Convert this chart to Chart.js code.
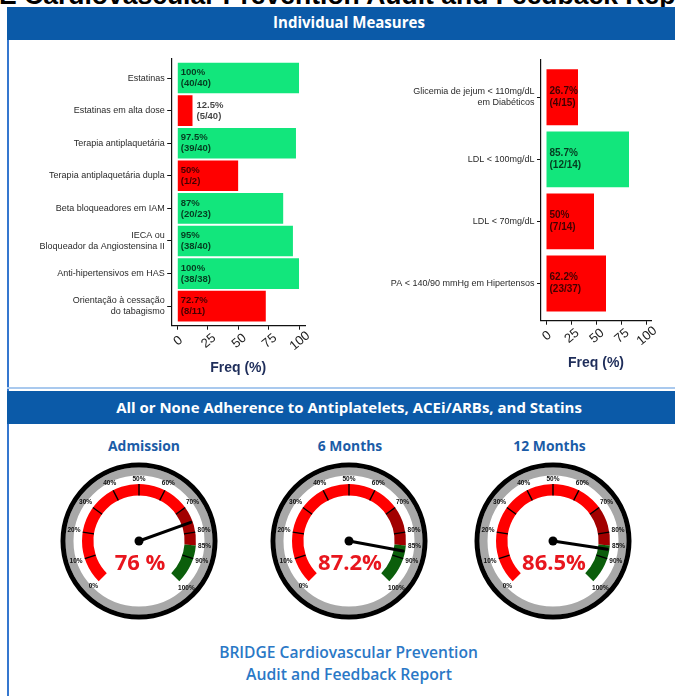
<!DOCTYPE html>
<html><head><meta charset="utf-8">
<script src="https://cdn.jsdelivr.net/npm/chart.js@4.4.0/dist/chart.umd.min.js"></script>
<style>
html,body{margin:0;padding:0;background:#fff;}
body{width:675px;height:696px;position:relative;overflow:hidden;font-family:"Open Sans",sans-serif;}
.abs{position:absolute;}
.hdr{position:absolute;left:7px;width:700px;background:#0b5aa8;}
.txt{position:absolute;white-space:nowrap;transform:translate(-50%,-50%);line-height:1;}
canvas{position:absolute;}
</style></head><body>
<div id="topTitle" class="abs" style="font:bold 26.5px 'Liberation Sans',Arial,sans-serif;color:#000;white-space:nowrap;line-height:26.5px;top:-18px;">BRIDGE Cardiovascular Prevention Audit and Feedback Report</div>
<div class="hdr" style="top:7px;height:33px"></div>
<div class="abs" style="left:7px;top:40px;width:2px;height:656px;background:#3577cf"></div>
<div class="abs" style="left:7px;top:387px;width:700px;height:2px;background:#a9c9ee"></div>
<div class="hdr" style="top:391px;height:33px"></div>
<div id="h1" class="txt" style="left:349px;top:23px;color:#fff;font-weight:700;">Individual Measures</div>
<div id="h2" class="txt" style="left:349px;top:407px;color:#fff;font-weight:700;">All or None Adherence to Antiplatelets, ACEi/ARBs, and Statins</div>
<div id="b1" class="txt" style="left:348.5px;top:653px;color:#2a78c6;font-weight:600;">BRIDGE Cardiovascular Prevention</div>
<div id="b2" class="txt" style="left:349px;top:675px;color:#2a78c6;font-weight:600;">Audit and Feedback Report</div>
<canvas id="leftBars" width="340" height="340" style="left:0px;top:45px"></canvas>
<canvas id="rightBars" width="335" height="340" style="left:340px;top:45px"></canvas>
<script>
// ---------------- DATA ----------------
const leftCategories = [["Estatinas"], ["Estatinas em alta dose"], ["Terapia antiplaquetária"], ["Terapia antiplaquetária dupla"], ["Beta bloqueadores em IAM"], ["IECA ou", "Bloqueador da Angiostensina II"], ["Anti-hipertensivos em HAS"], ["Orientação à cessação", "do tabagismo"]];
const leftValues = [100, 12.5, 97.5, 50, 87, 95, 100, 72.7];
const leftPctLabels = ["100%", "12.5%", "97.5%", "50%", "87%", "95%", "100%", "72.7%"];
const leftCountLabels = ["(40/40)", "(5/40)", "(39/40)", "(1/2)", "(20/23)", "(38/40)", "(38/38)", "(8/11)"];
const leftMeetsTarget = [true, false, true, false, true, true, true, false];

const rightCategories = [["Glicemia de jejum < 110mg/dL", "em Diabéticos"], ["LDL < 100mg/dL"], ["LDL < 70mg/dL"], ["PA < 140/90 mmHg em Hipertensos"]];
const rightValues = [32, 83, 48, 60];
const rightPctLabels = ["26.7%", "85.7%", "50%", "62.2%"];
const rightCountLabels = ["(4/15)", "(12/14)", "(7/14)", "(23/37)"];
const rightMeetsTarget = [false, true, false, false];

const freqTicks = [0, 25, 50, 75, 100];
const freqAxisTitle = "Freq (%)";

const gaugeTitles = ["Admission", "6 Months", "12 Months"];
const gaugeValues = [76, 87.2, 86.5];
const gaugeValueLabels = ["76 %", "87.2%", "86.5%"];
const gaugeBandEdges = [0, 70, 85, 100];
const gaugeTickMarks = [10, 20, 30, 40, 50, 60, 70, 80, 90];
const gaugeTickLabels = [0, 10, 20, 30, 40, 50, 60, 70, 80, 85, 90, 100];

// ---------------- STYLE / LAYOUT ----------------
const GREEN = '#12e67c', RED = '#ff0000', NAVY = '#1e2d5a';
const GAUGE_COLORS = ['#ff0000', '#a20000', '#0b5e0b'];
const gaugeCentersX = [138.5, 348.5, 553];
const gaugeCenterY = 540.5;
const gaugeTitleX = [144, 350, 549.5];
const gaugeTitleY = 446;

function fit(el, target) {
  el.style.fontSize = '20px';
  const w = el.getBoundingClientRect().width;
  el.style.fontSize = (20 * target / w) + 'px';
}
fit(document.getElementById('h1'), 152);
fit(document.getElementById('h2'), 466);
fit(document.getElementById('b1'), 259);
fit(document.getElementById('b2'), 206);
(function () {
  const t = document.getElementById('topTitle');
  const c = document.createElement('canvas').getContext('2d');
  c.font = "bold 26.5px 'Liberation Sans'";
  t.style.left = (24 - c.measureText('BRIDGE ').width) + 'px';
})();

// gauge titles
(function () {
  let size = null;
  gaugeTitles.forEach((g, i) => {
    const d = document.createElement('div');
    d.className = 'txt';
    d.textContent = g;
    d.style.left = gaugeTitleX[i] + 'px';
    d.style.top = gaugeTitleY + 'px';
    d.style.color = '#1b5ca7';
    d.style.fontWeight = '700';
    document.body.appendChild(d);
    if (size === null) { fit(d, 72); size = d.style.fontSize; } else d.style.fontSize = size;
  });
})();

// ---------------- PLUGINS ----------------
const barLabelPlugin = {
  id: 'barLabels',
  afterDatasetsDraw(chart, args, o) {
    const ctx = chart.ctx;
    const meta = chart.getDatasetMeta(0);
    ctx.save();
    ctx.font = 'bold ' + o.size + 'px "Liberation Sans", Arial, sans-serif';
    ctx.fillStyle = 'rgba(0,0,0,0.74)';
    ctx.textAlign = 'left';
    ctx.textBaseline = 'middle';
    meta.data.forEach((bar, i) => {
      const v = o.values[i];
      const x = v < 20 ? bar.x + 4 : bar.base + 3;
      ctx.fillText(o.pct[i], x, bar.y - o.gap);
      ctx.fillText(o.count[i], x, bar.y + o.gap);
    });
    ctx.restore();
  }
};
const rotTickPlugin = {
  id: 'rotTicks',
  afterDraw(chart, args, o) {
    const ctx = chart.ctx, xs = chart.scales.x;
    ctx.save();
    ctx.font = '13px "Liberation Sans", Arial, sans-serif';
    ctx.fillStyle = '#222';
    ctx.textAlign = 'center';
    ctx.textBaseline = 'middle';
    freqTicks.forEach(t => {
      ctx.save();
      ctx.translate(xs.getPixelForValue(t) + 1, chart.chartArea.bottom + o.dy);
      ctx.rotate(-40 * Math.PI / 180);
      ctx.fillText(String(t), 0, 0);
      ctx.restore();
    });
    ctx.restore();
  }
};

function makeBars(id, cats, values, pct, count, meets, g) {
  const data = values.map((v, i) => ({ x: v, y: i + 1 }));
  new Chart(document.getElementById(id), {
    type: 'bar',
    data: { datasets: [{ data, backgroundColor: meets.map(m => m ? GREEN : RED), borderWidth: 0, barPercentage: g.barPct, categoryPercentage: 1 }] },
    options: {
      indexAxis: 'y', responsive: false, animation: false, devicePixelRatio: 1,
      layout: { padding: { left: 0, right: g.padRight, top: g.padTop, bottom: 0 } },
      plugins: {
        legend: { display: false }, tooltip: { enabled: false },
        barLabels: { values, pct, count, size: g.labelSize, gap: g.gap },
        rotTicks: { dy: 15.3 }
      },
      scales: {
        x: {
          type: 'linear', min: -5, max: 105, offset: false,
          afterBuildTicks: s => { s.ticks = freqTicks.map(v => ({ value: v })); },
          afterFit: s => { s.height = g.xHeight; },
          grid: { drawOnChartArea: false, drawTicks: true, tickLength: 4, color: '#111', offset: false },
          border: { color: '#111', width: 1.2 },
          ticks: { display: false },
          title: { display: true, text: freqAxisTitle, color: NAVY, font: { family: '"Liberation Sans", Arial, sans-serif', size: 14, weight: 'bold' }, padding: { top: 0, bottom: g.titlePad } }
        },
        y: {
          type: 'linear', min: 0.4, max: cats.length + 0.6, reverse: true, offset: false,
          afterBuildTicks: s => { s.ticks = cats.map((c, i) => ({ value: i + 1 })); },
          afterFit: s => { s.width = g.yWidth; },
          grid: { drawOnChartArea: false, drawTicks: true, tickLength: 4, color: '#111', offset: false },
          border: { color: '#111', width: 1.2 },
          ticks: { autoSkip: false, padding: 2.5, color: '#2a2a2a', font: { family: '"Liberation Sans", Arial, sans-serif', size: 9, lineHeight: 1.22 }, callback: v => cats[v - 1] }
        }
      }
    },
    plugins: [barLabelPlugin, rotTickPlugin]
  });
}

makeBars('leftBars', leftCategories, leftValues, leftPctLabels, leftCountLabels, leftMeetsTarget,
  { barPct: 0.94, padRight: 34.9, padTop: 13, xHeight: 59.3, yWidth: 171.2, titlePad: 8.1, labelSize: 9.5, gap: 5.5 });
makeBars('rightBars', rightCategories, rightValues, rightPctLabels, rightCountLabels, rightMeetsTarget,
  { barPct: 0.9, padRight: 24, padTop: 15, xHeight: 64.3, yWidth: 201, titlePad: 13.1, labelSize: 10, gap: 6 });

// ---------------- GAUGES ----------------
const gaugePlugin = {
  id: 'gauge',
  beforeDatasetsDraw(chart) {
    const a = chart.getDatasetMeta(0).data[0], ctx = chart.ctx;
    ctx.save();
    ctx.lineWidth = 8; ctx.strokeStyle = '#a8a8a8';
    ctx.beginPath(); ctx.arc(a.x, a.y, 69.5, 0, Math.PI * 2); ctx.stroke();
    ctx.lineWidth = 5; ctx.strokeStyle = '#000';
    ctx.beginPath(); ctx.arc(a.x, a.y, 76, 0, Math.PI * 2); ctx.stroke();
    ctx.restore();
  },
  afterDatasetsDraw(chart, args, o) {
    const arcs = chart.getDatasetMeta(0).data, a = arcs[0], ctx = chart.ctx;
    const a0 = a.startAngle, a1 = arcs[arcs.length - 1].endAngle;
    const lo = gaugeBandEdges[0], hi = gaugeBandEdges[gaugeBandEdges.length - 1];
    const ang = v => a0 + (v - lo) / (hi - lo) * (a1 - a0);
    const cx = a.x, cy = a.y, ri = a.innerRadius, ro = a.outerRadius;
    ctx.save();
    ctx.strokeStyle = '#000'; ctx.lineWidth = 1.4;
    gaugeTickMarks.forEach(v => {
      const t = ang(v);
      ctx.beginPath();
      ctx.moveTo(cx + Math.cos(t) * ri, cy + Math.sin(t) * ri);
      ctx.lineTo(cx + Math.cos(t) * ro, cy + Math.sin(t) * ro);
      ctx.stroke();
    });
    ctx.fillStyle = '#111';
    ctx.font = 'bold 6.5px "Liberation Sans", Arial, sans-serif';
    ctx.textAlign = 'center'; ctx.textBaseline = 'middle';
    gaugeTickLabels.forEach(v => {
      const t = ang(v), s = v + '%';
      const hw = ctx.measureText(s).width / 2, hh = 3;
      const ux = Math.cos(t), uy = Math.sin(t);
      const r = ro + 2 + hw * Math.abs(ux) + hh * Math.abs(uy);
      ctx.fillText(s, cx + ux * r, cy + uy * r);
    });
    const t = ang(o.value);
    ctx.strokeStyle = '#000'; ctx.lineWidth = 3; ctx.lineCap = 'round';
    ctx.beginPath(); ctx.moveTo(cx, cy);
    ctx.lineTo(cx + Math.cos(t) * (ro - 2), cy + Math.sin(t) * (ro - 2)); ctx.stroke();
    ctx.fillStyle = '#000';
    ctx.beginPath(); ctx.arc(cx, cy, 4.5, 0, Math.PI * 2); ctx.fill();
    ctx.fillStyle = '#e8161e';
    ctx.font = 'bold 22px "Open Sans", sans-serif';
    ctx.fillText(o.label, cx + 1, cy + 23);
    ctx.restore();
  }
};

gaugeValues.forEach((val, gi) => {
  const cv = document.createElement('canvas');
  cv.width = 170; cv.height = 170;
  cv.style.left = (gaugeCentersX[gi] - 85) + 'px';
  cv.style.top = (gaugeCenterY - 85) + 'px';
  document.body.appendChild(cv);
  const segs = gaugeBandEdges.slice(1).map((e, i) => e - gaugeBandEdges[i]);
  new Chart(cv, {
    type: 'doughnut',
    data: { labels: ['below', 'near', 'target'], datasets: [{ data: segs, backgroundColor: GAUGE_COLORS, borderWidth: 0 }] },
    options: {
      responsive: false, animation: false, devicePixelRatio: 1,
      rotation: -135, circumference: 270, radius: 57, cutout: '80%',
      layout: { padding: { bottom: 16.7 } },
      plugins: { legend: { display: false }, tooltip: { enabled: false }, gauge: { value: val, label: gaugeValueLabels[gi] } }
    },
    plugins: [gaugePlugin]
  });
});
</script>
</body></html>
